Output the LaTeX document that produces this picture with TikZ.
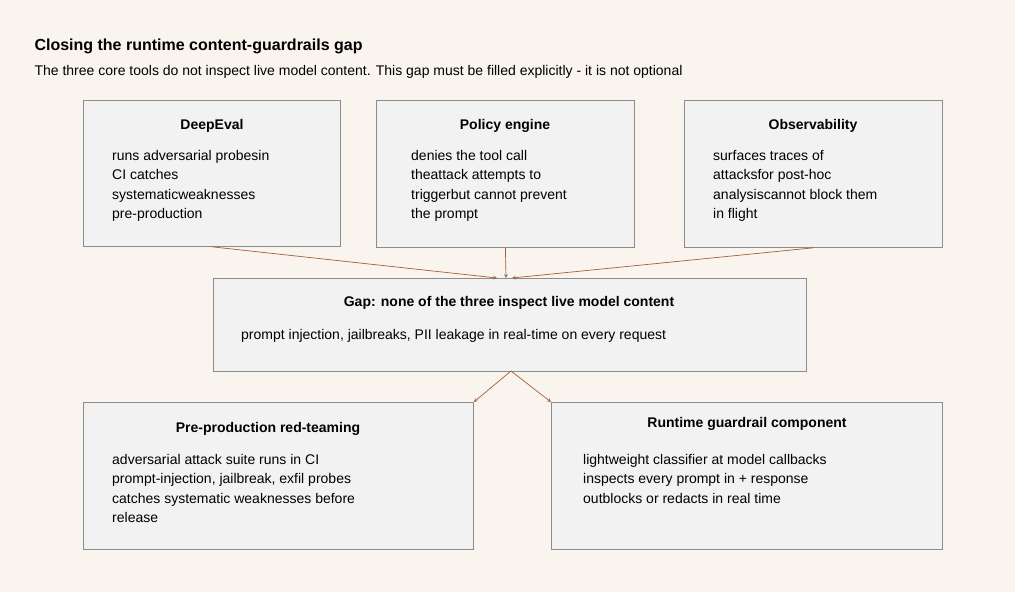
\documentclass[tikz,border=0pt]{standalone}
\usepackage{fontspec}
\setmainfont{Liberation Sans}
\usetikzlibrary{positioning}
\definecolor{bgc}{HTML}{F9F4EE}
\definecolor{boxc}{HTML}{F2F2F2}
\definecolor{linec}{HTML}{8C8C8C}
\definecolor{arrc}{HTML}{A0603A}
\tikzset{
  box/.style={draw=linec,fill=boxc,line width=0.8pt,anchor=north west,inner sep=0pt},
  head/.style={font=\fontsize{14}{17}\selectfont\bfseries,anchor=base},
  body/.style={font=\fontsize{14}{19.5}\selectfont,anchor=north west,align=left,inner sep=0pt},
  link/.style={->,>=stealth,draw=arrc,line width=0.7pt}
}
\begin{document}
\begin{tikzpicture}[x=1pt,y=-1pt]
  \fill[bgc] (0,0) rectangle (1015,592);
  \useasboundingbox (0,0) rectangle (1015,592);
  \node[anchor=base west,font=\fontsize{16}{19}\selectfont\bfseries] (title) at (31,50) {Closing the runtime content-guardrails gap};
  \node[anchor=base west,font=\fontsize{14}{17}\selectfont] (sub) at (31,75) {The three core tools do not inspect live model content. This gap must be filled explicitly - it is not optional};
  % top row
  \node[box,minimum width=257pt,minimum height=146pt] (deep) at (83,100) {};
  \node[box,minimum width=258pt,minimum height=147pt] (policy) at (376,100) {};
  \node[box,minimum width=258pt,minimum height=147pt] (obs) at (684,100) {};
  \node[head] at (212,129) {DeepEval};
  \node[head] at (505,129) {Policy engine};
  \node[head] at (813,129) {Observability};
  \node[body] at (112,150) {runs adversarial probesin\\CI catches\\systematicweaknesses\\pre-production};
  \node[body] at (411,150) {denies the tool call\\theattack attempts to\\triggerbut cannot prevent\\the prompt};
  \node[body] at (713,150) {surfaces traces of\\attacksfor post-hoc\\analysiscannot block them\\in flight};
  % gap
  \node[box,minimum width=593pt,minimum height=93pt] (gap) at (213,278) {};
  \node[head] at (509,306) {Gap: none of the three inspect live model content};
  \node[body] at (241,329) {prompt injection, jailbreaks, PII leakage in real-time on every request};
  % bottom row
  \node[box,minimum width=390pt,minimum height=147pt] (red) at (83,402) {};
  \node[box,minimum width=391pt,minimum height=147pt] (run) at (551,402) {};
  \node[head] at (268,432) {Pre-production red-teaming};
  \node[head] at (747,427) {Runtime guardrail component};
  \node[body] at (112,454) {adversarial attack suite runs in CI\\prompt-injection, jailbreak, exfil probes\\catches systematic weaknesses before\\release};
  \node[body] at (583,454) {lightweight classifier at model callbacks\\inspects every prompt in + response\\outblocks or redacts in real time};
  % connectors
  \coordinate (g1) at (497,278);
  \coordinate (g2) at (506,278);
  \coordinate (g3) at (512,278);
  \coordinate (gs) at (511,371);
  \draw[link] (deep.south) -- (g1);
  \draw[link] (policy.south) -- (g2);
  \draw[link] (obs.south) -- (g3);
  \draw[link] (gs) -- (red.north east);
  \draw[link] (gs) -- (run.north west);
\end{tikzpicture}
\end{document}
